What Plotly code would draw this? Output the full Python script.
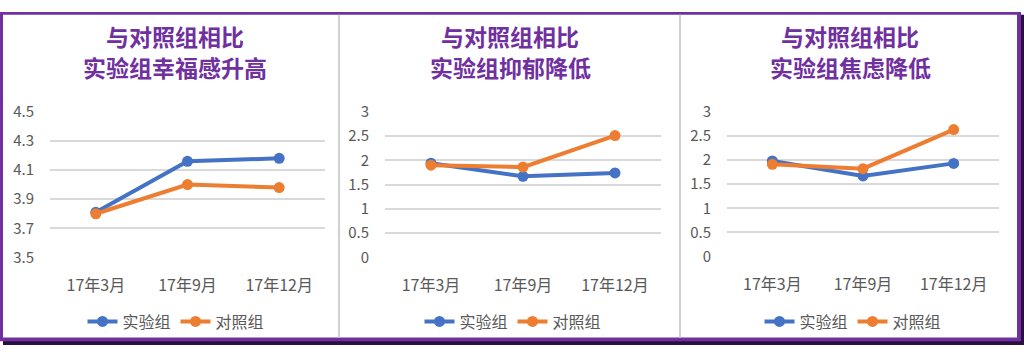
import plotly.graph_objects as go

W, H = 1024, 354

categories = ["17年3月", "17年9月", "17年12月"]
series_names = ["实验组", "对照组"]

title_line1 = ["与对照组相比", "与对照组相比", "与对照组相比"]
title_line2 = ["实验组幸福感升高", "实验组抑郁降低", "实验组焦虑降低"]

happy_exp = [3.81, 4.16, 4.18]
happy_ctl = [3.80, 4.00, 3.98]
dep_exp = [1.94, 1.67, 1.74]
dep_ctl = [1.90, 1.86, 2.51]
anx_exp = [1.98, 1.67, 1.93]
anx_ctl = [1.91, 1.82, 2.63]

y_ranges = [[3.5, 4.5], [0, 3], [0, 3]]
y_dticks = [0.2, 0.5, 0.5]

colors = ["#4472C4", "#ED7D31"]
FONT = "Noto Sans CJK SC, Open Sans, sans-serif"

def px(x):
    return x / W

def py(y):
    return 1 - y / H

# plot-area pixel boxes (left, right, top, bottom)
boxes = [(50, 325, 106, 261), (385, 661, 106, 261), (727, 999, 106, 260)]
title_x = [175, 510, 850]
legend_x = [176, 513, 853]

panels = [(happy_exp, happy_ctl), (dep_exp, dep_ctl), (anx_exp, anx_ctl)]

fig = go.Figure()
layout = dict(
    width=W, height=H, margin=dict(l=0, r=0, t=0, b=0),
    paper_bgcolor="white", plot_bgcolor="rgba(0,0,0,0)",
    font=dict(family=FONT, color="#595959"),
)

annotations = []
for i, (exp, ctl) in enumerate(panels):
    sfx = "" if i == 0 else str(i + 1)
    leg = "legend" + sfx
    for name, vals, c in zip(series_names, (exp, ctl), colors):
        fig.add_trace(go.Scatter(
            x=categories, y=vals, name=name, mode="lines+markers",
            line=dict(color=c, width=4), marker=dict(color=c, size=11),
            xaxis="x" + sfx, yaxis="y" + sfx, legend=leg,
        ))
    l, r, t, b = boxes[i]
    layout["xaxis" + sfx] = dict(
        domain=[px(l), px(r)], anchor="y" + sfx, type="category",
        range=[-0.5, 2.5], showgrid=False, showline=False, zeroline=False,
        tickfont=dict(size=16, color="#595959", family=FONT),
        ticks="outside", ticklen=13, tickcolor="rgba(0,0,0,0)",
    )
    layout["yaxis" + sfx] = dict(
        domain=[py(b), py(t)], anchor="x" + sfx, range=y_ranges[i],
        dtick=y_dticks[i], tick0=y_ranges[i][0],
        showgrid=True, gridcolor="#D9D9D9", gridwidth=1.5,
        zeroline=False, showline=False,
        tickfont=dict(size=15, color="#595959", family=FONT),
        ticks="outside", ticklen=12, tickcolor="rgba(0,0,0,0)",
    )
    layout[leg] = dict(
        orientation="h", x=px(legend_x[i]), y=py(329),
        xanchor="center", yanchor="middle",
        font=dict(size=16, color="#595959", family=FONT),
        bgcolor="rgba(0,0,0,0)", itemwidth=30,
    )
    for text, yy in ((title_line1[i], 25), (title_line2[i], 59)):
        annotations.append(dict(
            text="<b>" + text + "</b>", x=px(title_x[i]), y=py(yy),
            xref="paper", yref="paper", xanchor="center", yanchor="middle",
            showarrow=False, align="center", borderpad=0,
            font=dict(size=23, color="#7030A0", family=FONT),
        ))

shapes = [
    dict(type="rect", xref="paper", yref="paper", x0=px(3), x1=px(1024),
         y0=py(354), y1=py(3), fillcolor="#2A1040", line_width=0, layer="below"),
    dict(type="rect", xref="paper", yref="paper", x0=px(0), x1=px(1021),
         y0=py(350), y1=py(0), fillcolor="#7030A0", line_width=0, layer="below"),
    dict(type="rect", xref="paper", yref="paper", x0=px(3), x1=px(1017),
         y0=py(346), y1=py(3), fillcolor="white", line_width=0, layer="below"),
    dict(type="line", xref="paper", yref="paper", x0=px(339), x1=px(339),
         y0=py(346), y1=py(3), line=dict(color="#D0D0D0", width=2), layer="below"),
    dict(type="line", xref="paper", yref="paper", x0=px(680), x1=px(680),
         y0=py(346), y1=py(3), line=dict(color="#D0D0D0", width=2), layer="below"),
]

layout["annotations"] = annotations
layout["shapes"] = shapes
fig.update_layout(**layout)
fig.write_html("out.html")
